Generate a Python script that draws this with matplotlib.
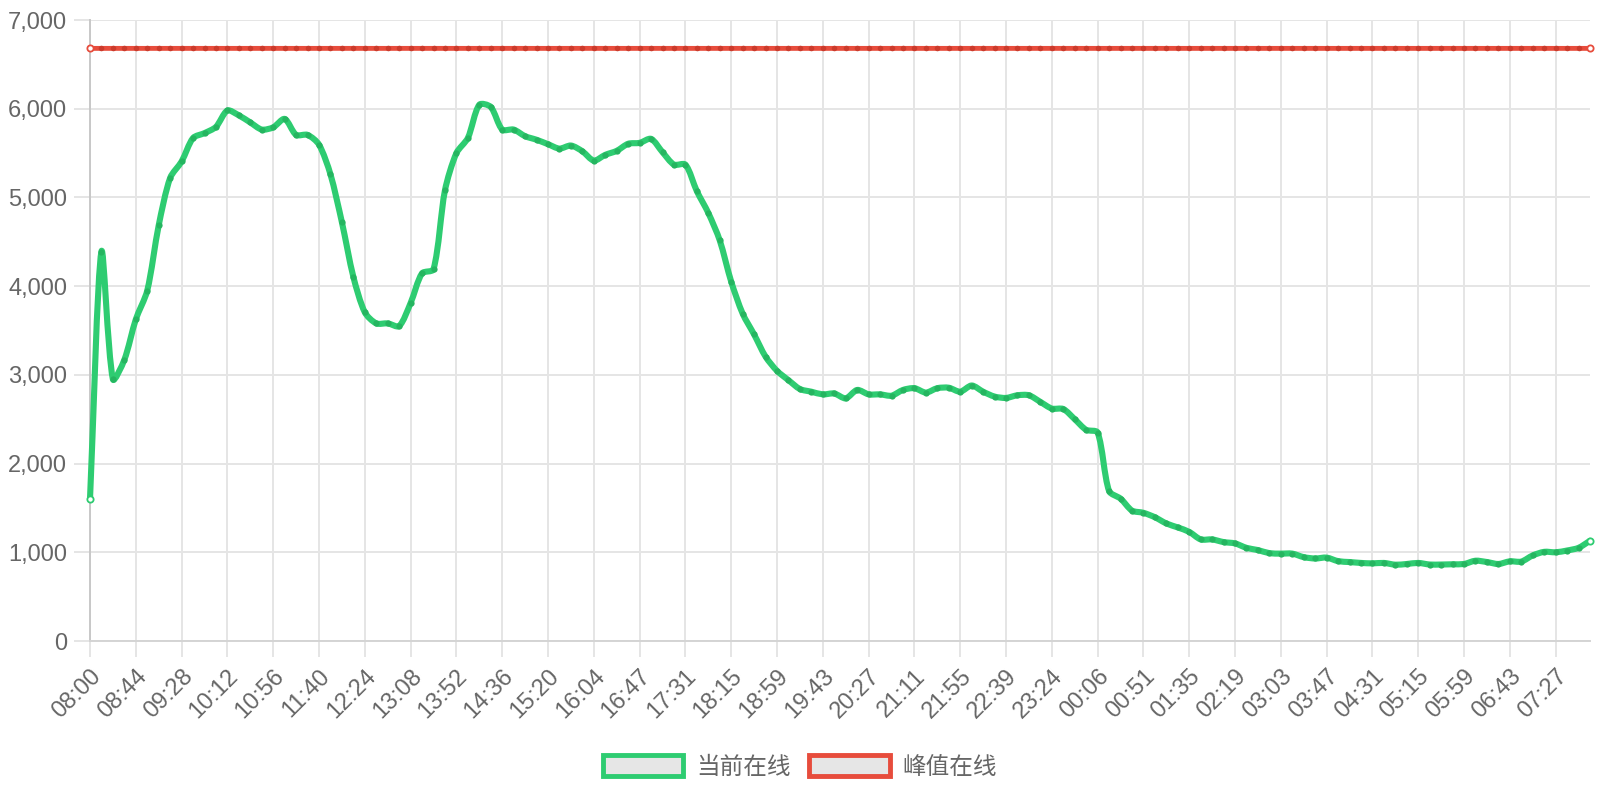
import numpy as np
import matplotlib
matplotlib.use("Agg")
import matplotlib.pyplot as plt
import matplotlib.transforms as mtransforms
from matplotlib.path import Path
from matplotlib.patches import PathPatch, Rectangle
from matplotlib.ticker import FuncFormatter

plt.rcParams['font.family'] = ['Liberation Sans', 'Noto Sans CJK SC', 'DejaVu Sans']

# x labels shown on the axis (one every 4th sample)
tick_labels = ["08:00", "08:44", "09:28", "10:12", "10:56", "11:40", "12:24", "13:08",
               "13:52", "14:36", "15:20", "16:04", "16:47", "17:31", "18:15", "18:59",
               "19:43", "20:27", "21:11", "21:55", "22:39", "23:24", "00:06", "00:51",
               "01:35", "02:19", "03:03", "03:47", "04:31", "05:15", "05:59", "06:43",
               "07:27"]
tick_step = 4

current_online = [
    1600, 4390, 2950, 3170, 3625, 3950, 4685, 5220, 5405, 5670, 5725, 5795,
    5980, 5925, 5845, 5765, 5790, 5885, 5705, 5705, 5595, 5260, 4720, 4105,
    3705, 3580, 3580, 3550, 3810, 4145, 4190, 5080, 5500, 5670, 6045, 6020,
    5765, 5765, 5690, 5650, 5600, 5550, 5585, 5520, 5415, 5480, 5525, 5605,
    5615, 5660, 5510, 5370, 5370, 5070, 4825, 4515, 4050, 3690, 3455, 3205,
    3045, 2940, 2840, 2810, 2780, 2790, 2735, 2830, 2780, 2780, 2765, 2830,
    2850, 2800, 2850, 2855, 2810, 2880, 2810, 2755, 2740, 2770, 2770, 2695,
    2620, 2615, 2500, 2380, 2350, 1690, 1605, 1470, 1445, 1395, 1325, 1280,
    1230, 1145, 1145, 1115, 1100, 1050, 1025, 990, 985, 985, 945, 930,
    940, 900, 890, 880, 875, 880, 860, 868, 880, 862, 862, 865,
    868, 905, 890, 868, 898, 895, 965, 1005, 1000, 1020, 1050, 1130,
]
peak_online = [
    6680, 6680, 6680, 6680, 6680, 6680, 6680, 6680, 6680, 6680, 6680, 6680,
    6680, 6680, 6680, 6680, 6680, 6680, 6680, 6680, 6680, 6680, 6680, 6680,
    6680, 6680, 6680, 6680, 6680, 6680, 6680, 6680, 6680, 6680, 6680, 6680,
    6680, 6680, 6680, 6680, 6680, 6680, 6680, 6680, 6680, 6680, 6680, 6680,
    6680, 6680, 6680, 6680, 6680, 6680, 6680, 6680, 6680, 6680, 6680, 6680,
    6680, 6680, 6680, 6680, 6680, 6680, 6680, 6680, 6680, 6680, 6680, 6680,
    6680, 6680, 6680, 6680, 6680, 6680, 6680, 6680, 6680, 6680, 6680, 6680,
    6680, 6680, 6680, 6680, 6680, 6680, 6680, 6680, 6680, 6680, 6680, 6680,
    6680, 6680, 6680, 6680, 6680, 6680, 6680, 6680, 6680, 6680, 6680, 6680,
    6680, 6680, 6680, 6680, 6680, 6680, 6680, 6680, 6680, 6680, 6680, 6680,
    6680, 6680, 6680, 6680, 6680, 6680, 6680, 6680, 6680, 6680, 6680, 6680,
]
series_names = ["当前在线", "峰值在线"]

GREEN = "#2ecc71"
GREEN_DOT = "#25b560"
RED = "#e74c3c"
RED_DOT = "#cc3b2c"
TEXT = "#666666"
GRID = "#e5e5e5"


# smooth line like chart.js, control points computed in pixel space
def smooth_path(ax, xs, ys, t=0.28):
    pts = ax.transData.transform(np.column_stack([xs, ys]))
    n = len(pts)
    prev_cp = np.zeros_like(pts)
    next_cp = np.zeros_like(pts)
    for i in range(n):
        p0 = pts[max(i - 1, 0)]
        p1 = pts[i]
        p2 = pts[min(i + 1, n - 1)]
        d01 = np.hypot(*(p1 - p0))
        d12 = np.hypot(*(p2 - p1))
        s = d01 + d12
        s01 = d01 / s if s else 0
        s12 = d12 / s if s else 0
        prev_cp[i] = p1 - t * s01 * (p2 - p0)
        next_cp[i] = p1 + t * s12 * (p2 - p0)
    verts = [pts[0]]
    codes = [Path.MOVETO]
    for i in range(n - 1):
        verts += [next_cp[i], prev_cp[i + 1], pts[i + 1]]
        codes += [Path.CURVE4] * 3
    verts = ax.transData.inverted().transform(np.array(verts))
    return Path(verts, codes)


fig = plt.figure(figsize=(16, 8), dpi=100)
ax = fig.add_axes([0.05625, 0.19875, 0.9375, 0.77625])

x = np.arange(len(current_online))
ax.set_xlim(0, len(current_online) - 1)
ax.set_ylim(0, 7000)

for ys, col, dot, lw, ms in [(peak_online, RED, RED_DOT, 3.5, 4.0), (current_online, GREEN, GREEN_DOT, 4.4, 4.5)]:
    ax.add_patch(PathPatch(smooth_path(ax, x, ys), fill=False, edgecolor=col, lw=lw,
                           capstyle="round", joinstyle="round", zorder=3, clip_on=False))
    ax.plot(x[1:-1], ys[1:-1], "o", ms=ms, mfc=dot, mec="none", zorder=4, clip_on=False)
    ax.plot([x[0], x[-1]], [ys[0], ys[-1]], "o", ms=4.5, mfc="white", mec=col, mew=1.3,
            zorder=5, clip_on=False)

ax.set_yticks(np.arange(0, 7001, 1000))
ax.yaxis.set_major_formatter(FuncFormatter(lambda v, p: f"{int(v):,}"))
ax.set_xticks(x[::tick_step])
ax.set_xticklabels(tick_labels, rotation=45, ha="right", va="top", rotation_mode="anchor")
shift = mtransforms.ScaledTranslation(5 / 100, 0, fig.dpi_scale_trans)
for lab in ax.get_xticklabels():
    lab.set_transform(lab.get_transform() + shift)

ax.grid(True, color=GRID, lw=1.4)
ax.set_axisbelow(True)
ax.tick_params(axis="both", length=11.5, width=1.4, color=GRID, labelcolor=TEXT, labelsize=17)
ax.tick_params(axis="y", pad=5)
ax.tick_params(axis="x", pad=6)
for s in ["top", "right"]:
    ax.spines[s].set_visible(False)
ax.spines["left"].set_color("#c8c8c8")
ax.spines["bottom"].set_color("#d4d4d4")
ax.spines["left"].set_linewidth(1.4)
ax.spines["bottom"].set_linewidth(1.4)

handles = [Rectangle((0, 0), 1, 1, facecolor="#e6e6e6", edgecolor=c, lw=3.5) for c in (GREEN, RED)]
fig.legend(handles, series_names, loc="center", bbox_to_anchor=(0.5, 1 - 767 / 800), ncol=2,
           frameon=False, labelcolor=TEXT, handlelength=3.4, handleheight=1.0,
           handletextpad=0.55, columnspacing=0.8, prop={"family": ["Noto Sans CJK SC"], "size": 17})

fig.savefig("out.png", dpi=100)
